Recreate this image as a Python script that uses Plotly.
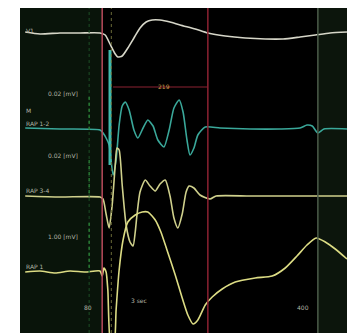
import plotly.graph_objects as go

# ---- data (time in ms, amplitude in display units, positive = up) ----
v1_t = [12, 46, 92, 138, 184, 196, 207, 219, 225, 235, 248, 262, 276, 290, 304, 322, 345, 368, 403, 432, 472, 518, 564, 605, 644, 679, 713, 752]
v1_a = [1, -1, 0, 0, 0, -2, -11, -21, -24, -23, -15, -5, 5, 11, 13, 13, 11, 8, 4, 0, -3, -5, -6, -6, -4, -2, 0, 1]

rap12_t = [12, 92, 184, 191, 198, 205, 214, 221, 228, 235, 242, 251, 262, 271, 283, 294, 306, 317, 331, 343, 354, 366, 375, 384, 391, 400, 409, 426, 460, 529, 598, 644, 660, 672, 685, 699, 752]
rap12_a = [1, 0, -1, -4, -9, -16, -46, -31, 4, 23, 27, 19, -1, -9, 1, 9, 3, -11, -18, -1, 21, 29, 17, -11, -26, -19, -6, 2, 1, 0, 0, 1, 4, 3, -4, 0, 0]

artifact_t = [207, 207]
artifact_a = [79, -36]

rap34_t = [12, 92, 184, 191, 198, 205, 212, 219, 223, 228, 235, 244, 253, 260, 265, 269, 276, 288, 299, 311, 322, 334, 345, 354, 363, 373, 382, 389, 400, 414, 437, 451, 529, 644, 752]
rap34_a = [0, -1, -1, -3, -18, -32, -9, 31, 48, 46, 11, -29, -46, -50, -36, -19, 4, 16, 10, 5, 12, 16, 0, -22, -32, -18, 4, 10, 8, 1, -3, 0, 0, 0, 0]

rap1_t = [12, 46, 81, 115, 150, 184, 189, 193, 198, 202, 209, 216, 221, 228, 237, 248, 265, 281, 294, 311, 324, 338, 357, 373, 386, 398, 409, 426, 442, 465, 495, 541, 580, 610, 637, 660, 681, 702, 725, 752]
rap1_a = [0, 1, -1, 1, 0, 1, -4, 4, 0, -18, -73, -73, -38, 2, 32, 50, 57, 60, 60, 52, 40, 22, -3, -26, -43, -52, -48, -33, -25, -17, -10, -6, -4, 4, 16, 27, 34, 30, 23, 13]

channel_names = ["V1", "RAP 1-2", "RAP 3-4", "RAP 1"]
gain_labels = ["0.02 [mV]", "0.02 [mV]", "1.00 [mV]"]
marker_times = [189, 432, 685]
measure_label = "219"
bottom_labels = ["80", "3 sec", "400"]

# ---- layout helpers ----
offsets = {"V1": -33, "RAP 1-2": -129, "RAP 3-4": -196, "RAP 1": -272}
colors = {"V1": "#d6d6c8", "RAP 1-2": "#3aa89a", "RAP 3-4": "#cfd08c", "RAP 1": "#dcdc84"}

fig = go.Figure()

# background tint regions
fig.add_shape(type="rect", xref="x", yref="paper", x0=0, x1=189, y0=0, y1=1,
              fillcolor="#09140a", line_width=0, layer="below")
fig.add_shape(type="rect", xref="x", yref="paper", x0=685, x1=752, y0=0, y1=1,
              fillcolor="#0c150c", line_width=0, layer="below")

# green dotted scale line
fig.add_shape(type="line", xref="x", yref="paper", x0=159, x1=159, y0=0, y1=1,
              line=dict(color="#1d4f26", width=1, dash="dot"))
for y0, y1 in [(-97, -130), (-160, -197), (-223, -272)]:
    fig.add_shape(type="line", xref="x", yref="y", x0=159, x1=159, y0=y0, y1=y1,
                  line=dict(color="#2f8a3c", width=1.2, dash="dot"))

# dotted yellowish marker
fig.add_shape(type="line", xref="x", yref="paper", x0=210, x1=210, y0=0, y1=1,
              line=dict(color="#6a6a38", width=1, dash="dot"))

# vertical marker lines
mk_colors = ["#b84a5c", "#8c2232", "#4c5c4a"]
for t, c in zip(marker_times, mk_colors):
    fig.add_shape(type="line", xref="x", yref="paper", x0=t, x1=t, y0=0, y1=1,
                  line=dict(color=c, width=1.5))

# measurement line
fig.add_shape(type="line", xref="x", yref="y", x0=214, x1=432, y0=-87, y1=-87,
              line=dict(color="#8c2232", width=1.2))

series = [("V1", v1_t, v1_a), ("RAP 1-2", rap12_t, rap12_a),
          ("RAP 3-4", rap34_t, rap34_a), ("RAP 1", rap1_t, rap1_a)]
for name, t, a in series:
    off = offsets[name]
    fig.add_trace(go.Scatter(x=t, y=[v + off for v in a], mode="lines",
                             line=dict(color=colors[name], width=1.6, shape="spline", smoothing=0.6),
                             hoverinfo="skip", showlegend=False))

fig.add_trace(go.Scatter(x=artifact_t, y=[v + offsets["RAP 1-2"] for v in artifact_a], mode="lines",
                         line=dict(color="#40bcae", width=3), hoverinfo="skip", showlegend=False))

def lab(x, y, text, color="#b4b4a6", anchor="left"):
    return dict(x=x, y=y, text=text, showarrow=False, xanchor=anchor, yanchor="middle",
                font=dict(family="DejaVu Sans", size=6, color=color))

ann = []
for name, y in zip(channel_names, [-30, -123, -190, -266]):
    ann.append(lab(10, y, name))
ann.append(lab(10, -110, "M"))
for g, y in zip(gain_labels, [-93, -155, -236]):
    ann.append(lab(60, y, g))
for txt, x, y in zip(bottom_labels, [143, 250, 632], [-307, -300, -307]):
    ann.append(lab(x, y, txt))
ann.append(lab(330, -86, measure_label, color="#d09a48", anchor="center"))

fig.update_layout(
    width=347, height=333, autosize=False,
    margin=dict(l=20, r=0, t=8, b=0),
    paper_bgcolor="#ffffff", plot_bgcolor="#000000",
    xaxis=dict(range=[0, 752], visible=False, fixedrange=True),
    yaxis=dict(range=[-333, -8], visible=False, fixedrange=True),
    annotations=ann,
)

fig.write_html("out.html")
